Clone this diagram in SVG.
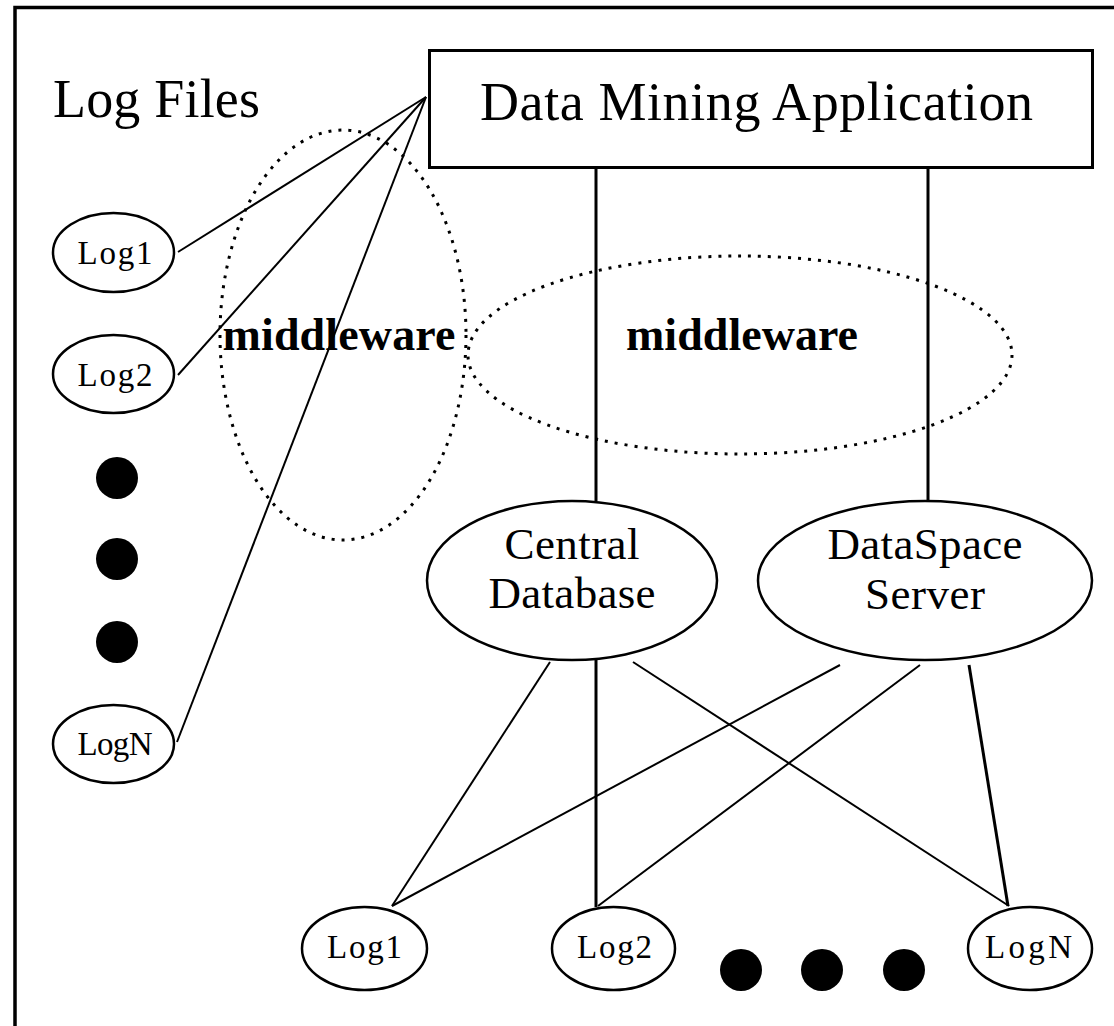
<svg xmlns="http://www.w3.org/2000/svg" width="1114" height="1026" viewBox="0 0 1114 1026">
<style>
text{font-family:"Liberation Serif","Times New Roman",serif;fill:#000}
.big{font-size:54px}
.mid{font-size:45px;text-anchor:middle}
.small{font-size:33px;text-anchor:middle}
.mw{font-size:46px;font-weight:bold;text-anchor:middle}
.node{fill:#fff;stroke:#000;stroke-width:2.5}
.dot{fill:#000}
.ln{stroke:#000;stroke-width:2;fill:none}
.thick{stroke:#000;stroke-width:3;fill:none}
.dash{fill:none;stroke:#000;stroke-width:3;stroke-dasharray:3 7}
</style>
<rect width="1114" height="1026" fill="#fff"/>
<path d="M15 1026 V7.5 H1114" fill="none" stroke="#000" stroke-width="3.5"/>
<text class="big" x="53" y="117" textLength="207">Log Files</text>

<g id="connectors">
<line class="ln" x1="178" y1="252" x2="426" y2="97"/>
<line class="ln" x1="178" y1="375" x2="426" y2="97"/>
<line class="ln" x1="177" y1="742" x2="426" y2="97"/>
<line class="thick" x1="596" y1="168" x2="596" y2="501"/>
<line class="thick" x1="928" y1="168" x2="928" y2="501"/>
<line class="thick" x1="596" y1="660" x2="596" y2="907"/>
<line class="ln" x1="550" y1="662" x2="392" y2="906"/>
<line class="ln" x1="633" y1="662" x2="1009" y2="906"/>
<line class="ln" x1="840" y1="665" x2="392" y2="906"/>
<line class="ln" x1="920" y1="665" x2="598" y2="906"/>
<line class="thick" x1="969" y1="665" x2="1008" y2="906"/>
</g>

<g id="middleware-left">
<ellipse class="dash" cx="343" cy="335" rx="123" ry="205"/>
<text class="mw" x="339" y="350" textLength="233">middleware</text>
</g>
<g id="middleware-right">
<ellipse class="dash" cx="740" cy="355" rx="272" ry="99"/>
<text class="mw" x="742" y="350" textLength="232">middleware</text>
</g>

<g id="app">
<rect x="429.5" y="50.5" width="663" height="117" fill="#fff" stroke="#000" stroke-width="3"/>
<text class="big" x="480" y="120" textLength="553">Data Mining Application</text>
</g>

<g id="log1-left">
<ellipse class="node" cx="113.5" cy="252.5" rx="60.5" ry="39.5"/>
<text class="small" x="115" y="264" textLength="75">Log1</text>
</g>
<g id="log2-left">
<ellipse class="node" cx="113.5" cy="374" rx="60.5" ry="39"/>
<text class="small" x="115" y="386" textLength="75">Log2</text>
</g>
<g id="dots-left">
<circle class="dot" cx="117" cy="478" r="21"/>
<circle class="dot" cx="117" cy="559" r="21"/>
<circle class="dot" cx="117" cy="642" r="21"/>
</g>
<g id="logN-left">
<ellipse class="node" cx="113.5" cy="744" rx="60.5" ry="39"/>
<text class="small" x="115" y="755" textLength="75">LogN</text>
</g>

<g id="central-db">
<ellipse class="node" cx="572" cy="580.5" rx="145" ry="79.5"/>
<text class="mid" x="572" y="559" textLength="135">Central</text>
<text class="mid" x="572" y="608" textLength="167">Database</text>
</g>
<g id="dataspace">
<ellipse class="node" cx="925" cy="580.5" rx="167" ry="79.5"/>
<text class="mid" x="925" y="559" textLength="195">DataSpace</text>
<text class="mid" x="925" y="609" textLength="120">Server</text>
</g>

<g id="log1-bottom">
<ellipse class="node" cx="364.5" cy="948.5" rx="62.5" ry="41.5"/>
<text class="small" x="364.5" y="958" textLength="75">Log1</text>
</g>
<g id="log2-bottom">
<ellipse class="node" cx="613.5" cy="948.5" rx="61.5" ry="41.5"/>
<text class="small" x="614.5" y="958" textLength="75">Log2</text>
</g>
<g id="dots-bottom">
<circle class="dot" cx="741" cy="970" r="21"/>
<circle class="dot" cx="822" cy="970" r="21"/>
<circle class="dot" cx="904" cy="970" r="21"/>
</g>
<g id="logN-bottom">
<ellipse class="node" cx="1030" cy="948.5" rx="62" ry="41.5"/>
<text class="small" x="1028.5" y="958" textLength="87">LogN</text>
</g>
</svg>
